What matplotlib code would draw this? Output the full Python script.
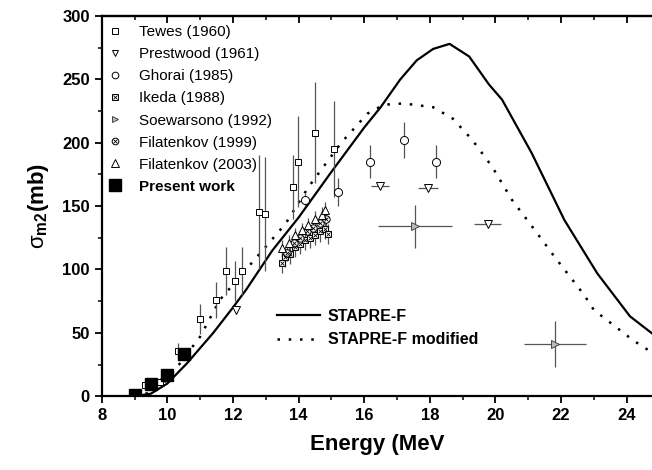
import matplotlib
matplotlib.use('Agg')
import matplotlib.pyplot as plt
from matplotlib.lines import Line2D
from matplotlib.ticker import MultipleLocator

plt.rcParams['font.family'] = ['Liberation Sans', 'DejaVu Sans']
plt.rcParams['mathtext.fontset'] = 'custom'
plt.rcParams['mathtext.rm'] = 'Liberation Sans'
plt.rcParams['mathtext.bf'] = 'Liberation Sans:bold'

# STAPRE-F curves
e_calc = [9.0, 9.5, 10.0, 10.6, 11.4, 12.0, 12.4, 13.2, 14.0, 15.0, 16.0, 16.5, 17.1,
          17.6, 18.1, 18.6, 19.2, 19.8, 20.2, 21.1, 22.1, 23.1, 24.1, 24.8]
s_stapre = [0, 2, 10, 26, 50, 70, 84, 115, 141, 177, 212, 228, 250,
            265, 274, 278, 268, 246, 234, 192, 139, 97, 63, 49]
e_mod = [9.0, 9.5, 10.0, 10.3, 11.0, 11.6, 12.3, 12.9, 13.6, 14.3, 15.3, 16.1, 16.6,
         17.2, 18.1, 18.7, 19.3, 19.9, 20.5, 21.2, 21.8, 22.7, 23.0, 24.2, 24.8]
s_mod = [0, 3, 13, 23, 47, 76, 97, 115, 136, 165, 200, 223, 230,
         231, 228, 219, 202, 181, 155, 131, 110, 80, 68, 44, 34]

# Tewes (1960)
tewes_e = [9.33, 9.79, 10.33, 11.0, 11.48, 11.78, 12.07, 12.28, 12.8, 12.97, 13.83, 13.99, 14.5, 15.08]
tewes_s = [9, 11, 36, 61, 76, 99, 91, 99, 145, 144, 165, 185, 208, 195]
tewes_err = [3, 3, 6, 12, 14, 19, 16, 19, 45, 45, 25, 36, 40, 38]

# Prestwood (1961)
prest_e = [12.1, 16.48, 17.95, 19.76]
prest_s = [68, 166, 164, 136]
prest_xerr = [0.0, 0.28, 0.3, 0.42]

# Ghorai (1985)
ghorai_e = [14.19, 15.2, 16.19, 17.22, 18.2]
ghorai_s = [155, 161, 185, 202, 185]
ghorai_err = [5, 11, 13, 14, 13]

# Ikeda (1988)
ikeda_e = [13.5, 13.6, 13.75, 13.9, 14.05, 14.2, 14.35, 14.5, 14.65, 14.8, 14.9]
ikeda_s = [105, 110, 112, 118, 120, 123, 125, 127, 130, 132, 128]
ikeda_err = [8, 8, 8, 8, 8, 8, 8, 8, 8, 8, 8]

# Soewarsono (1992)
soew_e = [17.54, 21.81]
soew_s = [134, 41]
soew_xerr = [1.12, 0.95]
soew_yerr = [17, 18]

# Filatenkov (1999)
fil99_e = [13.65, 13.85, 14.05, 14.25, 14.45, 14.65, 14.85]
fil99_s = [113, 121, 125, 130, 133, 137, 140]
fil99_err = [6, 6, 6, 6, 6, 6, 6]

# Filatenkov (2003)
fil03_e = [13.5, 13.7, 13.9, 14.1, 14.3, 14.5, 14.7, 14.8]
fil03_s = [117, 121, 127, 131, 135, 140, 143, 147]
fil03_err = [6, 6, 6, 6, 6, 6, 6, 6]

# Present work
pres_e = [9.0, 9.5, 10.0, 10.5]
pres_s = [1, 10, 17, 33]

fig = plt.figure(figsize=(6.52, 4.70), dpi=100)
ax = fig.add_axes([0.156, 0.157, 0.844, 0.809])

ms = 4.8
ecol = '#555555'
ax.errorbar(tewes_e, tewes_s, yerr=tewes_err, fmt='s', ms=ms, mfc='white', mec='black',
            mew=0.7, ecolor=ecol, elinewidth=0.9, capsize=0, zorder=3)
ax.errorbar(prest_e, prest_s, xerr=prest_xerr, fmt='v', ms=ms + 1, mfc='white', mec='black',
            mew=0.7, ecolor=ecol, elinewidth=0.9, capsize=0, zorder=3)
ax.errorbar(ghorai_e, ghorai_s, yerr=ghorai_err, fmt='o', ms=ms + 1, mfc='white', mec='black',
            mew=0.7, ecolor=ecol, elinewidth=0.9, capsize=0, zorder=3)
ax.errorbar(ikeda_e, ikeda_s, yerr=ikeda_err, fmt='s', ms=ms - 0.6, mfc='white', mec='black',
            mew=0.7, ecolor=ecol, elinewidth=0.9, capsize=0, zorder=3)
ax.plot(ikeda_e, ikeda_s, 'x', ms=ms - 1.6, mec='black', mew=0.6, zorder=4)
ax.errorbar(soew_e, soew_s, xerr=soew_xerr, yerr=soew_yerr, fmt='>', ms=ms + 1, mfc='#bbbbbb',
            mec='#444444', mew=0.7, ecolor=ecol, elinewidth=0.9, capsize=0, zorder=3)
ax.errorbar(fil99_e, fil99_s, yerr=fil99_err, fmt='o', ms=ms + 0.5, mfc='white', mec='black',
            mew=0.7, ecolor=ecol, elinewidth=0.9, capsize=0, zorder=3)
ax.plot(fil99_e, fil99_s, 'x', ms=ms - 1.2, mec='black', mew=0.6, zorder=4)
ax.errorbar(fil03_e, fil03_s, yerr=fil03_err, fmt='^', ms=ms + 1.5, mfc='white', mec='black',
            mew=0.7, ecolor=ecol, elinewidth=0.9, capsize=0, zorder=3)
ax.plot(pres_e, pres_s, 's', ms=8, color='black', zorder=5)

l1, = ax.plot(e_calc, s_stapre, '-', color='black', lw=1.6, zorder=2)
l2, = ax.plot(e_mod, s_mod, linestyle=(0, (1, 3.5)), color='black', lw=1.8, zorder=2)

ax.set_xlim(8, 24.77)
ax.set_ylim(0, 300)
ax.xaxis.set_major_locator(MultipleLocator(2))
ax.xaxis.set_minor_locator(MultipleLocator(1))
ax.yaxis.set_major_locator(MultipleLocator(50))
ax.yaxis.set_minor_locator(MultipleLocator(25))
ax.tick_params(which='major', direction='out', length=5, width=1.3, labelsize=12)
ax.tick_params(which='minor', direction='out', length=3, width=1.1)
for lab in ax.get_xticklabels() + ax.get_yticklabels():
    lab.set_fontweight('bold')
for sp in ['left', 'bottom', 'top']:
    ax.spines[sp].set_linewidth(1.6)
ax.spines['right'].set_visible(False)

top = ax.secondary_xaxis('top')
top.xaxis.set_major_locator(MultipleLocator(2))
top.xaxis.set_minor_locator(MultipleLocator(1))
top.tick_params(which='major', direction='in', length=5, width=1.3, labeltop=False)
top.tick_params(which='minor', direction='in', length=3, width=1.1)
top.spines['top'].set_linewidth(1.6)

ax.set_xlabel('Energy (MeV', fontsize=16, fontweight='bold', labelpad=8)
ax.set_ylabel(r'$\mathrm{\sigma}_{\mathbf{m2}}$' + '(mb)', fontsize=16, fontweight='bold', labelpad=8)

def mk(marker, size, fc='white', ec='black'):
    return Line2D([], [], linestyle='none', marker=marker, ms=size, mfc=fc, mec=ec, mew=0.7)

handles = [mk('s', ms - 0.8), mk('v', ms), mk('o', ms),
           (mk('s', ms - 0.8), Line2D([], [], linestyle='none', marker='x', ms=ms - 2, mec='black', mew=0.6)),
           mk('>', ms, fc='#bbbbbb', ec='#444444'),
           (mk('o', ms), Line2D([], [], linestyle='none', marker='x', ms=ms - 1.6, mec='black', mew=0.6)),
           mk('^', ms + 1),
           Line2D([], [], linestyle='none', marker='s', ms=8, color='black')]
labels = ['Tewes (1960)', 'Prestwood (1961)', 'Ghorai (1985)', 'Ikeda (1988)',
          'Soewarsono (1992)', 'Filatenkov (1999)', 'Filatenkov (2003)', 'Present work']
leg = ax.legend(handles, labels, loc='upper left', bbox_to_anchor=(-0.01, 1.0), frameon=False,
                fontsize=11, handlelength=1.2, handletextpad=1.0, labelspacing=0.53,
                borderaxespad=0.2)
leg.get_texts()[-1].set_fontweight('bold')
ax.add_artist(leg)

leg2 = ax.legend([l1, l2], ['STAPRE-F', 'STAPRE-F modified'], loc='upper left',
                 bbox_to_anchor=(0.293, 0.268), frameon=False, handlelength=2.7,
                 handletextpad=0.45, labelspacing=0.55,
                 prop={'weight': 'bold', 'size': 11.5})

fig.savefig('out.png', dpi=100)
